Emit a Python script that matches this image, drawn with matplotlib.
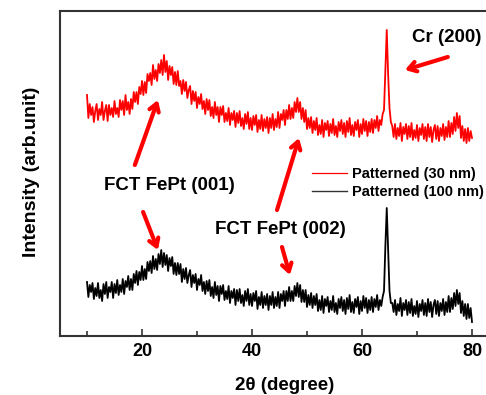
import numpy as np
import matplotlib
matplotlib.use("Agg")
import matplotlib.pyplot as plt
from matplotlib.lines import Line2D

plt.rcParams['font.family'] = ['Liberation Sans', 'DejaVu Sans']

# 2theta sampling grid (degrees), step 0.25
two_theta = np.arange(10, 80.001, 0.25)

# Intensity (arb. unit)
red_30nm = [
    241, 218, 232, 221, 229, 214, 225, 232, 216, 227, 221, 234, 216, 225, 231, 215,
    231, 221, 228, 219, 235, 222, 228, 219, 236, 226, 235, 221, 241, 226, 234, 222,
    237, 227, 244, 234, 244, 232, 249, 242, 255, 241, 254, 243, 262, 255, 263, 251,
    271, 257, 266, 255, 272, 263, 276, 261, 281, 264, 275, 256, 270, 261, 269, 252,
    264, 251, 265, 250, 255, 242, 256, 245, 254, 238, 246, 250, 232, 245, 235, 244,
    228, 239, 232, 242, 227, 235, 222, 237, 226, 236, 220, 229, 218, 234, 221, 229,
    214, 229, 221, 230, 214, 223, 215, 228, 211, 223, 216, 225, 209, 223, 213, 225,
    210, 218, 207, 222, 212, 224, 207, 218, 206, 220, 211, 221, 204, 216, 207, 221,
    205, 217, 208, 219, 203, 218, 208, 222, 206, 217, 209, 224, 208, 222, 216, 226,
    211, 226, 217, 231, 217, 228, 218, 234, 224, 238, 224, 234, 217, 228, 214, 226,
    207, 218, 208, 219, 203, 215, 206, 218, 201, 211, 202, 216, 199, 213, 206, 215,
    200, 212, 203, 217, 201, 210, 199, 214, 205, 216, 202, 213, 199, 215, 204, 218,
    201, 211, 200, 214, 206, 216, 199, 212, 202, 217, 205, 215, 200, 214, 204, 217,
    203, 216, 208, 220, 205, 216, 211, 222, 226, 265, 306, 262, 228, 214, 210, 199,
    212, 197, 208, 200, 213, 195, 209, 202, 212, 197, 210, 199, 213, 196, 206, 198,
    211, 195, 208, 201, 212, 197, 209, 195, 212, 199, 209, 194, 206, 211, 197, 210,
    195, 208, 200, 212, 196, 209, 199, 215, 199, 213, 202, 219, 205, 223, 208, 220,
    198, 210, 195, 207, 193, 208, 195, 205, 198,
]

black_100nm = [
    54, 39, 51, 44, 53, 37, 48, 40, 53, 38, 46, 35, 52, 42, 54, 38,
    49, 44, 54, 38, 52, 43, 56, 41, 51, 44, 57, 42, 55, 49, 60, 46,
    57, 46, 62, 53, 65, 51, 64, 56, 70, 56, 67, 57, 74, 65, 75, 63,
    80, 67, 77, 66, 82, 72, 86, 69, 83, 71, 81, 65, 78, 70, 79, 62,
    73, 61, 73, 62, 72, 54, 67, 57, 68, 53, 61, 66, 49, 61, 53, 62,
    46, 57, 51, 61, 45, 54, 42, 55, 45, 56, 40, 49, 38, 54, 41, 50,
    35, 50, 42, 51, 36, 45, 37, 50, 33, 45, 38, 47, 31, 46, 35, 47,
    33, 41, 30, 45, 35, 47, 31, 42, 30, 43, 35, 45, 27, 39, 31, 44,
    28, 40, 31, 42, 26, 40, 31, 44, 28, 39, 30, 44, 28, 42, 35, 45,
    30, 45, 35, 49, 35, 45, 35, 50, 40, 53, 39, 51, 34, 46, 34, 46,
    29, 41, 31, 43, 28, 40, 31, 42, 25, 36, 26, 40, 23, 37, 30, 39,
    24, 35, 26, 40, 24, 33, 22, 37, 28, 39, 25, 36, 22, 38, 27, 41,
    24, 34, 23, 37, 29, 39, 22, 35, 25, 40, 28, 38, 23, 36, 26, 39,
    24, 37, 29, 41, 26, 36, 30, 39, 45, 90, 128, 85, 45, 33, 33, 24,
    36, 21, 32, 25, 38, 20, 33, 26, 36, 21, 34, 23, 37, 20, 30, 22,
    35, 19, 32, 25, 36, 21, 33, 20, 37, 24, 34, 19, 31, 36, 22, 35,
    20, 33, 25, 37, 21, 34, 24, 40, 24, 38, 27, 43, 30, 46, 32, 43,
    23, 35, 20, 32, 17, 32, 18, 28, 14,
]

labels = ["Patterned (30 nm)", "Patterned (100 nm)"]
xticks_major = [20, 40, 60, 80]
xticks_minor = [10, 30, 50, 70]

assert len(red_30nm) == len(two_theta), (len(red_30nm), len(two_theta))
assert len(black_100nm) == len(two_theta), (len(black_100nm), len(two_theta))

W, H = 486, 395
fig = plt.figure(figsize=(W / 100, H / 100), dpi=100)
# axes box: left px 60, right px 500 (beyond figure), top px 11, bottom px 336
ax = fig.add_axes([60 / W, (H - 336) / H, 440 / W, 325 / H])

ax.plot(two_theta, red_30nm, color='#ff0000', lw=1.3, label=labels[0])
ax.plot(two_theta, black_100nm, color='#000000', lw=1.3, label=labels[1])

ax.set_xlim(10 - 27 / 5.5, 10 + 413 / 5.5)
ax.set_ylim(0, 325)

ax.set_xticks(xticks_major)
ax.set_xticklabels([str(v) for v in xticks_major], fontsize=13, fontweight='bold')
ax.set_xticks(xticks_minor, minor=True)
ax.set_yticks([])
ax.tick_params(axis='x', which='major', direction='in', length=5, width=1.2, color='#333333', pad=5)
ax.tick_params(axis='x', which='minor', direction='in', length=3.5, width=1.2, color='#333333')
for s in ax.spines.values():
    s.set_color('#333333')
    s.set_linewidth(1.5)

fig.text(285 / W, 1 - 385 / H, "2θ (degree)", fontsize=13.5, fontweight='bold',
         ha='center', va='center')
fig.text(31 / W, 1 - 172 / H, "Intensity (arb.unit)", rotation=90, fontsize=14,
         fontweight='bold', ha='center', va='center')

arrow = dict(arrowstyle='->,head_length=0.55,head_width=0.35', lw=3, color='#ff0000',
             shrinkA=0, shrinkB=0)
# Cr (200)
ax.annotate("", xy=(67.8, 266), xytext=(75.6, 279), arrowprops=arrow)
ax.text(69.1, 298, "Cr (200)", fontsize=13.5, fontweight='bold', ha='left', va='center')
# FCT FePt (001)
ax.annotate("", xy=(22.9, 236), xytext=(18.7, 171), arrowprops=arrow)
ax.annotate("", xy=(22.9, 86), xytext=(20.2, 124), arrowprops=arrow)
ax.text(24.9, 150, "FCT FePt (001)", fontsize=13.5, fontweight='bold', ha='center', va='center')
# FCT FePt (002)
ax.annotate("", xy=(48.55, 198), xytext=(44.55, 126), arrowprops=arrow)
ax.annotate("", xy=(46.9, 61), xytext=(45.45, 89), arrowprops=arrow)
ax.text(45.1, 106, "FCT FePt (002)", fontsize=13.5, fontweight='bold', ha='center', va='center')

handles = [Line2D([], [], color='#ff0000', lw=0.9), Line2D([], [], color='#333333', lw=1.0)]
ax.legend(handles, labels, loc='upper left', bbox_to_anchor=((312 - 60) / 440, (336 - 167) / 325),
          frameon=False, prop={'weight': 'bold', 'size': 10.5},
          handlelength=2.4, handletextpad=0.35, labelspacing=0.3, borderpad=0, borderaxespad=0)

fig.savefig("out.png", dpi=100)
